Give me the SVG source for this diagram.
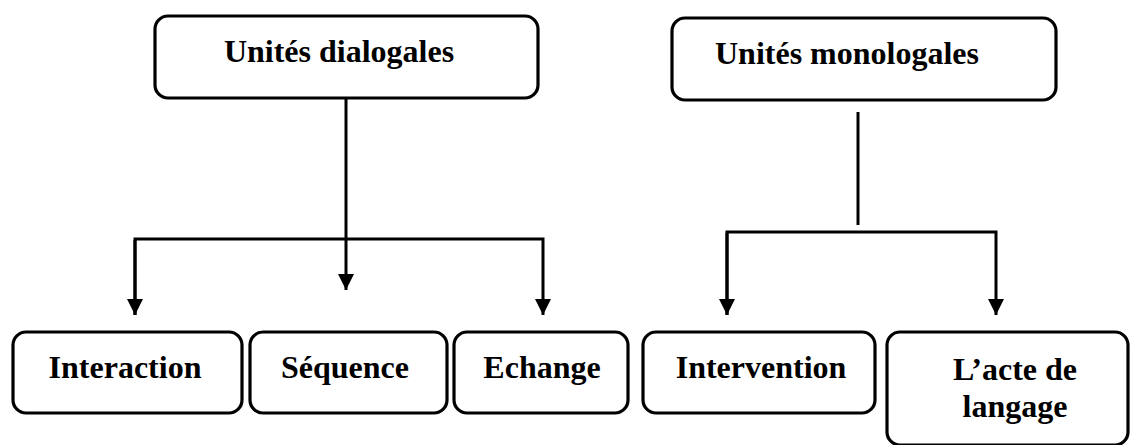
<svg xmlns="http://www.w3.org/2000/svg" width="1130" height="445" viewBox="0 0 1130 445">
<style>
.box{fill:#fff;stroke:#000;stroke-width:3.2}
.lbl{font-family:"Liberation Serif","Times New Roman",serif;font-weight:bold;font-size:32px;fill:#000;text-anchor:middle}
.con{fill:none;stroke:#000;stroke-width:3}
</style>
<defs>
<marker id="ah" viewBox="0 0 10 10" refX="10" refY="5" markerWidth="5.4" markerHeight="5.4" markerUnits="strokeWidth" orient="auto">
<path d="M0,0 L10,5 L0,10 z" fill="#000"/>
</marker>
</defs>
<rect width="1130" height="445" fill="#fff"/>
<g id="connectors">
<line class="con" x1="346" y1="98" x2="346" y2="290" marker-end="url(#ah)"/>
<polyline class="con" points="135,315 135,239 543,239 543,315" marker-end="url(#ah)"/>
<path class="con" d="M135,240 L135,315" marker-end="url(#ah)"/>
<line class="con" x1="858" y1="112" x2="858" y2="225"/>
<polyline class="con" points="727,315 727,232 996,232 996,315" marker-end="url(#ah)"/>
<path class="con" d="M727,233 L727,315" marker-end="url(#ah)"/>
</g>
<g id="n-dialogales">
<rect class="box" x="155" y="16" width="383" height="82" rx="13"/>
<text class="lbl" x="339" y="62">Unités dialogales</text>
</g>
<g id="n-monologales">
<rect class="box" x="672" y="18" width="384" height="82" rx="13"/>
<text class="lbl" x="847" y="64">Unités monologales</text>
</g>
<g id="n-interaction">
<rect class="box" x="13" y="332" width="229" height="81" rx="13"/>
<text class="lbl" x="125" y="378">Interaction</text>
</g>
<g id="n-sequence">
<rect class="box" x="250" y="332" width="197" height="81" rx="13"/>
<text class="lbl" x="345" y="378">Séquence</text>
</g>
<g id="n-echange">
<rect class="box" x="454" y="332" width="174" height="81" rx="13"/>
<text class="lbl" x="542" y="378">Echange</text>
</g>
<g id="n-intervention">
<rect class="box" x="643" y="332" width="232" height="81" rx="13"/>
<text class="lbl" x="761" y="378">Intervention</text>
</g>
<g id="n-acte">
<rect class="box" x="887" y="332" width="241" height="113" rx="13"/>
<text class="lbl" x="1015" y="380">L’acte de</text>
<text class="lbl" x="1015" y="417">langage</text>
</g>
</svg>
